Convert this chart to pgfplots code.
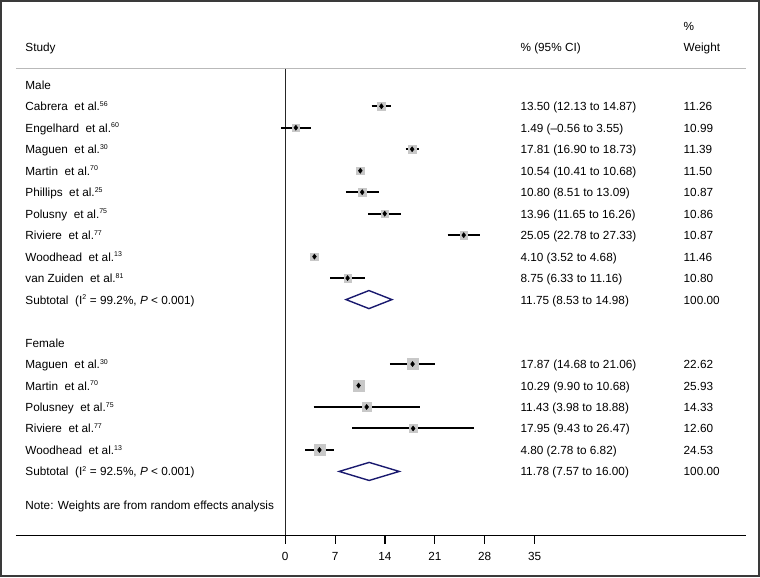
\documentclass[border=0pt]{standalone}
\usepackage{pgfplots}
\pgfplotsset{compat=1.18}
\usepackage{pgfplotstable}
\usepackage{fontspec}
\setmainfont{Liberation Sans}
\definecolor{navy}{RGB}{25,25,110}
\definecolor{sqgray}{RGB}{200,200,200}
\definecolor{rulegray}{RGB}{185,185,185}
\definecolor{framegray}{RGB}{58,58,58}

% row = line of the plot (0 = "Male"), est in %, w = % weight
\pgfplotstableread{
row est w
1 13.50 11.26
2 1.49 10.99
3 17.81 11.39
4 10.54 11.50
5 10.80 10.87
6 13.96 10.86
7 25.05 10.87
8 4.10 11.46
9 8.75 10.80
13 17.87 22.62
14 10.29 25.93
15 11.43 14.33
16 17.95 12.60
17 4.80 24.53
}\studies

% 95% CI limits (lo, hi) for each row
\pgfplotstableread{
x y
12.13 1
14.87 1
nan nan
-0.56 2
3.55 2
nan nan
16.90 3
18.73 3
nan nan
10.41 4
10.68 4
nan nan
8.51 5
13.09 5
nan nan
11.65 6
16.26 6
nan nan
22.78 7
27.33 7
nan nan
3.52 8
4.68 8
nan nan
6.33 9
11.16 9
nan nan
14.68 13
21.06 13
nan nan
9.90 14
10.68 14
nan nan
3.98 15
18.88 15
nan nan
9.43 16
26.47 16
nan nan
2.78 17
6.82 17
}\cis

\newcommand{\lt}[2]{\node[anchor=base west,inner sep=0pt] at (axis cs:-36.50,#1){#2};}
\newcommand{\srow}[4]{%
  \node[anchor=base west,inner sep=0pt] at (axis cs:-36.50,#1){#2};
  \node[anchor=base west,inner sep=0pt] at (axis cs:33.00,#1){#3};
  \node[anchor=base west,inner sep=0pt] at (axis cs:55.90,#1){#4};}
\newcommand{\smallsup}[1]{\textsuperscript{\fontsize{7pt}{8pt}\selectfont #1}}
\newcommand{\ea}[1]{\ \ et al.\smallsup{#1}}

\begin{document}
\fontsize{11.8pt}{14pt}\selectfont
\begin{tikzpicture}
\begin{axis}[
  name=main,
  at={(0pt,0pt)}, anchor=south west,
  scale only axis, width=760pt, height=577pt,
  xmin=-39.9, xmax=66.5, ymin=-3.90, ymax=22.89,
  y dir=reverse,
  xtick=\empty, ytick=\empty,
  axis line style={framegray, line width=2pt},
  clip=false,
]
% top rule and reference line at 0
\draw[rulegray, line width=0.9pt] (axis cs:-37.8,-0.757) -- (axis cs:64.68,-0.757);
\draw[black!85, line width=1.3pt] (axis cs:0,-0.757) -- (axis cs:0,20.98);

% weight squares
\addplot[scatter, only marks, mark=square*,
  scatter/use mapped color={draw=sqgray, fill=sqgray},
  visualization depends on={1.14*sqrt(\thisrow{w}) \as \ms},
  scatter/@pre marker code/.append style={/tikz/mark size=\ms}]
  table[x=est, y=row] {\studies};

% confidence intervals
\addplot[black, line width=2.0pt, mark=none, unbounded coords=jump, line cap=butt]
  table[x=x, y=y] {\cis};

% point estimates
\addplot[only marks, mark=diamond*, mark size=2.6pt, black] table[x=est, y=row] {\studies};

% subtotal diamonds
\addplot[navy, line width=1.4pt, line join=miter, mark=none]
  coordinates {(8.53,10) (11.75,9.58) (14.98,10) (11.75,10.42)} -- cycle;
\addplot[navy, line width=1.4pt, line join=miter, mark=none]
  coordinates {(7.57,18) (11.78,17.58) (16.00,18) (11.78,18.42)} -- cycle;

% headers
\node[anchor=base west,inner sep=0pt] at (axis cs:55.90,-2.51){\%};
\srow{-1.53}{Study}{\% (95\% CI)}{Weight}
% Male
\lt{0.21}{Male}
\srow{1.21}{Cabrera\ea{56}}{13.50 (12.13 to 14.87)}{11.26}
\srow{2.21}{Engelhard\ea{60}}{1.49 (–0.56 to 3.55)}{10.99}
\srow{3.21}{Maguen\ea{30}}{17.81 (16.90 to 18.73)}{11.39}
\srow{4.21}{Martin\ea{70}}{10.54 (10.41 to 10.68)}{11.50}
\srow{5.21}{Phillips\ea{25}}{10.80 (8.51 to 13.09)}{10.87}
\srow{6.21}{Polusny\ea{75}}{13.96 (11.65 to 16.26)}{10.86}
\srow{7.21}{Riviere\ea{77}}{25.05 (22.78 to 27.33)}{10.87}
\srow{8.21}{Woodhead\ea{13}}{4.10 (3.52 to 4.68)}{11.46}
\srow{9.21}{van Zuiden\ea{81}}{8.75 (6.33 to 11.16)}{10.80}
\srow{10.21}{Subtotal\ \ (I\smallsup{2} = 99.2\%, \textit{P} < 0.001)}{11.75 (8.53 to 14.98)}{100.00}
% Female
\lt{12.23}{Female}
\srow{13.21}{Maguen\ea{30}}{17.87 (14.68 to 21.06)}{22.62}
\srow{14.21}{Martin\ea{70}}{10.29 (9.90 to 10.68)}{25.93}
\srow{15.21}{Polusney\ea{75}}{11.43 (3.98 to 18.88)}{14.33}
\srow{16.21}{Riviere\ea{77}}{17.95 (9.43 to 26.47)}{12.60}
\srow{17.21}{Woodhead\ea{13}}{4.80 (2.78 to 6.82)}{24.53}
\srow{18.21}{Subtotal\ \ (I\smallsup{2} = 92.5\%, \textit{P} < 0.001)}{11.78 (7.57 to 16.00)}{100.00}
\lt{19.75}{Note: Weights are from random effects analysis}
\end{axis}

% bottom scale
\begin{axis}[
  at={(15pt,41pt)}, anchor=south west,
  scale only axis, width=732pt, height=40pt,
  xmin=-37.8, xmax=64.68, ymin=0, ymax=1,
  axis x line=bottom, axis y line=none,
  x axis line style={-, black, line width=1.1pt},
  xtick={0,7,14,21,28,35},
  tick align=outside, major tick length=8pt,
  tick style={black, line width=1.1pt},
  /pgf/number format/assume math mode=true,
  xticklabel style={font=\fontsize{11.8pt}{14pt}\selectfont, yshift=-5pt},
]
\addplot[draw=none, mark=none] coordinates {(0,0) (35,0)};
\end{axis}
\end{tikzpicture}
\end{document}
